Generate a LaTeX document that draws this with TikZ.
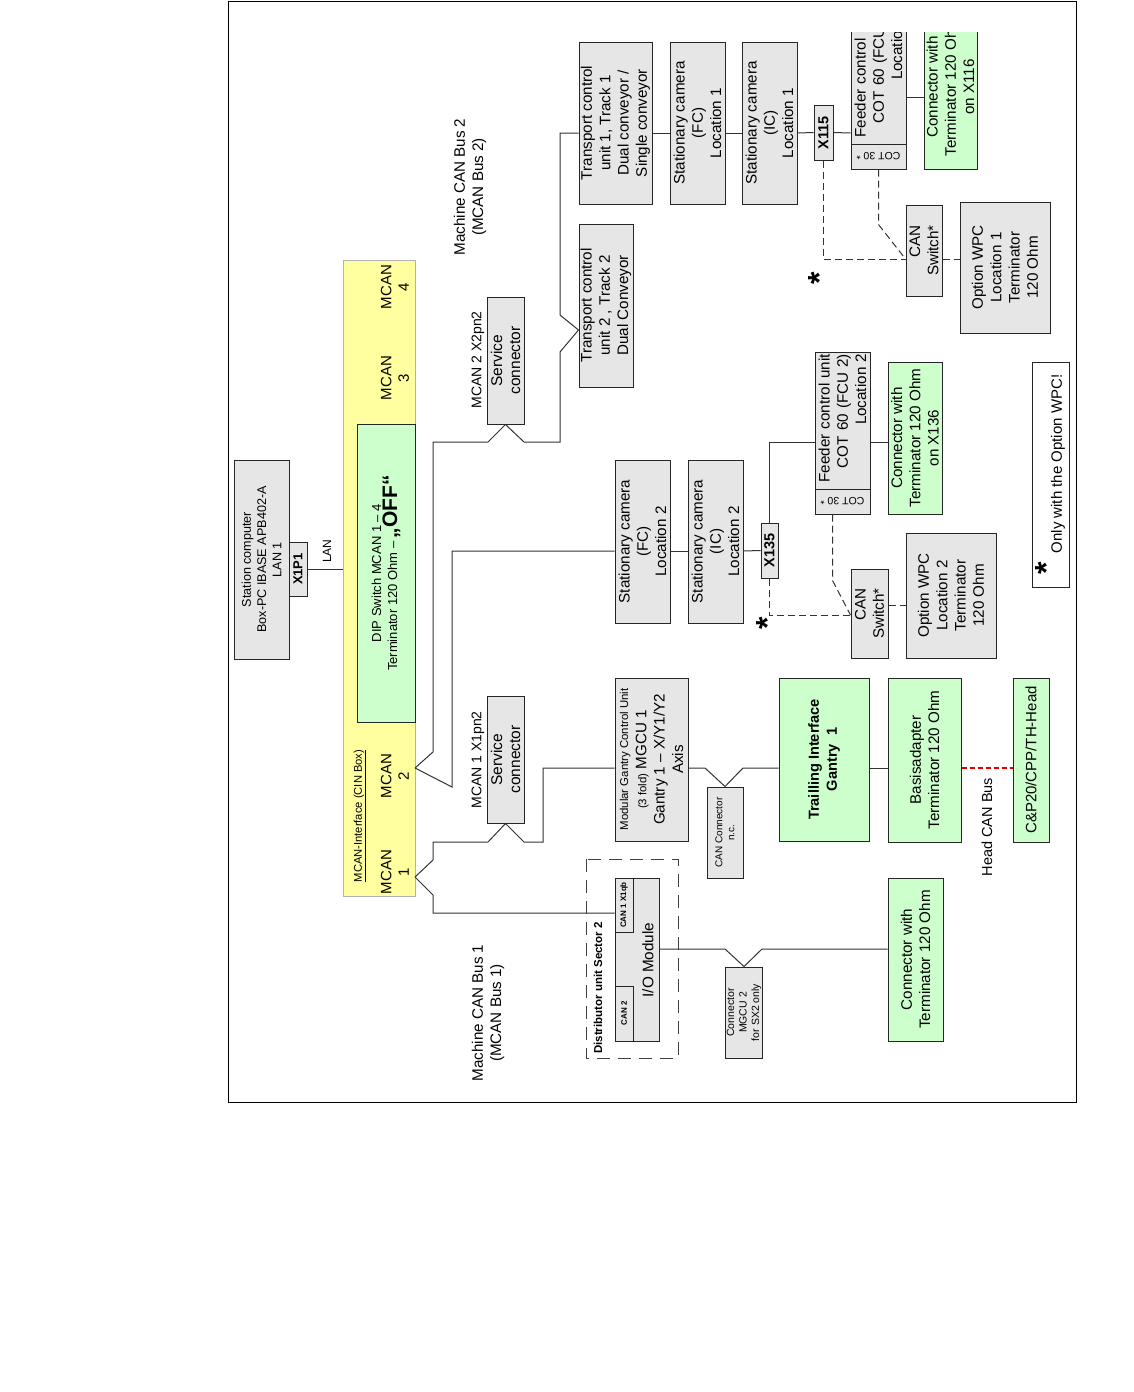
\documentclass[tikz,border=0pt]{standalone}
\usepackage{fontspec}
\setmainfont{Liberation Sans}
\usetikzlibrary{positioning,calc}

\definecolor{boxgray}{RGB}{230,230,230}
\definecolor{boxgreen}{RGB}{204,255,204}
\definecolor{cinyellow}{RGB}{255,255,160}

\tikzset{
  boxbase/.style={rectangle, draw=black!85, fill=boxgray, line width=1pt, inner sep=1pt, align=center, font=\fontsize{15.2}{18.3}\selectfont},
  box/.style={boxbase, rotate=90},
  greenbox/.style={box, fill=boxgreen},
  cotbox/.style={boxbase, rotate=180, font=\fontsize{10.5}{12}\selectfont},
  wire/.style={draw=black!80, line width=1pt},
  dashwire/.style={wire, dash pattern=on 7pt off 4pt},
  redbus/.style={draw=red!90!black, line width=2.4pt, dash pattern=on 5pt off 3pt},
  lbl/.style={rotate=90, align=center, inner sep=0pt, font=\fontsize{15.2}{18.3}\selectfont},
  star/.style={rotate=90, inner sep=0pt, font=\fontsize{32}{32}\selectfont\bfseries}
}

\begin{document}
\begin{tikzpicture}[x=1pt, y=-1pt]
\useasboundingbox (0,0) rectangle (1134,1392);
\draw[line width=1pt] (228,1) rectangle (1076,1102);

% Station computer and CIN box
\node[box, minimum width=199pt, minimum height=55pt, font=\fontsize{12.6}{15.3}\selectfont] (pc) at (261.5,559.5) {Station computer\\Box-PC IBASE APB402-A\\LAN 1};
\node[box, minimum width=54pt, minimum height=18pt, font=\fontsize{13}{15}\selectfont\bfseries] (x1p1) at (298,569) {X1P1};
\node[lbl, font=\fontsize{12}{14}\selectfont] (lan) at (327,551) {LAN};

\node[box, fill=cinyellow, draw=black!30, minimum width=636pt, minimum height=72pt] (cin) at (379,578) {};
\node[greenbox, minimum width=298pt, minimum height=58pt, font=\fontsize{13}{16}\selectfont] (dip) at (386,573) {DIP Switch MCAN 1 – 4\\Terminator 120 Ohm – {\fontsize{21}{22}\selectfont\bfseries „OFF“}};
\node[lbl, font=\fontsize{11.2}{13}\selectfont] (cinlbl) at (360,816) {\underline{MCAN-Interface (CIN Box)}};
\node[lbl, font=\fontsize{15}{17.5}\selectfont] (m1) at (395,872) {MCAN\\1};
\node[lbl, font=\fontsize{15}{17.5}\selectfont] (m2) at (395,776) {MCAN\\2};
\node[lbl, font=\fontsize{15}{17.5}\selectfont] (m3) at (395,378) {MCAN\\3};
\node[lbl, font=\fontsize{15}{17.5}\selectfont] (m4) at (395,287) {MCAN\\4};

% Service connectors
\node[box, minimum width=127pt, minimum height=37pt, font=\fontsize{15.5}{18}\selectfont] (sc1) at (505.5,759.5) {Service\\connector};
\node[lbl, font=\fontsize{14}{16}\selectfont] (sc1lbl) at (478,760) {MCAN 1 X1pn2};
\node[box, minimum width=127pt, minimum height=37pt, font=\fontsize{15.5}{18}\selectfont] (sc2) at (505.5,360.5) {Service\\connector};
\node[lbl, font=\fontsize{14}{16}\selectfont] (sc2lbl) at (478,360) {MCAN 2 X2pn2};

\node[lbl] (bus1lbl) at (488,1013) {Machine CAN Bus 1\\(MCAN Bus 1)};
\node[lbl] (bus2lbl) at (470,187) {Machine CAN Bus 2\\(MCAN Bus 2)};

% MCAN bus 2, location 1
\node[box, minimum width=163pt, minimum height=54pt] (tc2) at (606,305.5) {Transport control\\unit 2 , Track 2\\Dual Conveyor};
\node[box, minimum width=162pt, minimum height=73pt] (tc1) at (615.5,123) {Transport control\\unit 1, Track 1\\Dual conveyor /\\Single conveyor};
\node[box, minimum width=162pt, minimum height=55pt] (fc1) at (697.5,123) {Stationary camera\\(FC)\\Location 1};
\node[box, minimum width=162pt, minimum height=55pt] (ic1) at (769.5,123) {Stationary camera\\(IC)\\Location 1};
\node[box, minimum width=55pt, minimum height=19pt, font=\fontsize{14.5}{16}\selectfont\bfseries] (x115) at (823.5,132.5) {X115};

\begin{scope}
\clip (840,32) rectangle (990,220);
\node[box, minimum width=137pt, minimum height=55pt, text width=133pt, align=right] (fcu1) at (878.5,75.5) {Feeder control unit\\COT 60 (FCU 1)\\Location 1};
\node[cotbox, minimum width=55pt, minimum height=25pt] (cot1) at (878.5,156.5) {COT 30 *};
\node[greenbox, minimum width=164pt, minimum height=53pt] (x116) at (950.5,87) {Connector with\\Terminator 120 Ohm\\on X116};
\end{scope}

\node[box, minimum width=91pt, minimum height=36pt, align=right] (sw1) at (924,250.5) {CAN\\Switch*};
\node[box, minimum width=131pt, minimum height=90pt] (wpc1) at (1005,267.5) {Option WPC\\Location 1\\Terminator\\120 Ohm};
\node[star] (star1) at (819,278) {*};

% MCAN bus 1, location 2
\node[box, minimum width=163pt, minimum height=55pt] (fc2) at (642.5,541.5) {Stationary camera\\(FC)\\Location 2};
\node[box, minimum width=163pt, minimum height=55pt] (ic2) at (715.5,541.5) {Stationary camera\\(IC)\\Location 2};
\node[box, minimum width=55pt, minimum height=17pt, font=\fontsize{14.5}{16}\selectfont\bfseries] (x135) at (769.5,550.5) {X135};
\node[box, minimum width=137pt, minimum height=55pt, text width=133pt, align=right] (fcu2) at (842.5,420.5) {Feeder control unit\\COT 60 (FCU 2)\\Location 2};
\node[cotbox, minimum width=55pt, minimum height=25pt] (cot2) at (842.5,501.5) {COT 30 *};
\node[greenbox, minimum width=152pt, minimum height=54pt] (x136) at (915,438) {Connector with\\Terminator 120 Ohm\\on X136};
\node[box, minimum width=89pt, minimum height=37pt, align=right] (sw2) at (869.5,613.5) {CAN\\Switch*};
\node[box, minimum width=125pt, minimum height=90pt] (wpc2) at (951,595.5) {Option WPC\\Location 2\\Terminator\\120 Ohm};
\node[star] (star2) at (767,623) {*};

% legend
\node[box, fill=white, minimum width=225pt, minimum height=37pt] (note) at (1050.5,474.5) {};
\node[lbl, font=\fontsize{15}{17}\selectfont] (notetxt) at (1058,464) {Only with the Option WPC!};
\node[star] (star3) at (1046,568) {*};

% gantry
\node[box, minimum width=163pt, minimum height=73pt] (mgcu) at (651.5,759.5) {{\fontsize{11.4}{13}\selectfont Modular Gantry Control Unit}\\{\fontsize{11.4}{13}\selectfont (3 fold)}\ MGCU 1\\Gantry 1 – X/Y1/Y2\\Axis};
\node[box, minimum width=91pt, minimum height=36pt, font=\fontsize{10}{12}\selectfont] (canc) at (725,832.5) {CAN Connector\\n.c.};
\node[greenbox, minimum width=163pt, minimum height=90pt, font=\fontsize{14.6}{18}\selectfont\bfseries] (trail) at (824,759.5) {Trailling Interface\\Gantry\ \ 1};
\node[greenbox, minimum width=164pt, minimum height=73pt] (basis) at (924.5,760) {Basisadapter\\Terminator 120 Ohm};
\node[greenbox, minimum width=164pt, minimum height=36pt, font=\fontsize{15}{18}\selectfont] (head) at (1031,760) {C\&P20/CPP/TH-Head};
\node[lbl, font=\fontsize{14.5}{17}\selectfont] (headlbl) at (987,827) {Head CAN Bus};

% distributor unit
\node[rectangle, draw=black!75, line width=1pt, dash pattern=on 13pt off 8pt, rotate=90, minimum width=199pt, minimum height=92pt] (dist) at (632,958.5) {};
\node[lbl, anchor=west, font=\fontsize{11.5}{13}\selectfont\bfseries] (distlbl) at (598,1054) {Distributor unit Sector 2};
\node[box, minimum width=163pt, minimum height=44pt] (io) at (637,959.5) {};
\node[box, minimum width=54pt, minimum height=18pt, font=\fontsize{8}{9}\selectfont\bfseries] (can1x) at (624,905) {CAN 1 X1qb};
\node[box, minimum width=55pt, minimum height=18pt, font=\fontsize{8}{9}\selectfont\bfseries] (can2x) at (624,1013.5) {CAN 2};
\node[lbl, font=\fontsize{15.3}{17}\selectfont] (iolbl) at (648,960) {I/O Module};
\node[box, minimum width=91pt, minimum height=36pt, font=\fontsize{10.5}{12.5}\selectfont] (mgcu2c) at (744,1012.5) {Connector\\MGCU 2\\for SX2 only};
\node[greenbox, minimum width=163pt, minimum height=55pt] (term1) at (915.5,959.5) {Connector with\\Terminator 120 Ohm};

% levels
\coordinate (pA) at (415,877);
\coordinate (pB) at (415,768);
\coordinate (yG) at (0,768);
\coordinate (yIO) at (0,949);
\coordinate (yS1) at (0,913);
\coordinate (yC1) at (0,133);
\coordinate (yF1) at (0,97);
\coordinate (yT2) at (0,330);
\coordinate (yC2) at (0,551);
\coordinate (yF2) at (0,442);
\coordinate (yD1) at (0,259);
\coordinate (yD2) at (0,615);
\coordinate (yW2) at (0,605);

% connectors
\draw[wire] (x1p1.south) -- (x1p1.south -| cin.north);

\draw[wire] (pA) -- (433,860) -- (433,842) -- (488,842) -- (sc1.west) -- (524,842) -- (543,842) -- (543,768) -- (mgcu.north |- yG);
\draw[wire] (pA) -- (433,895) -- (433,913) -- (can1x.north |- yS1);

\draw[wire] (pB) -- (433,752) -- (433,442) -- (488,442) -- (sc2.west) -- (524,442) -- (560,442) -- (560,352) -- (tc2.north |- yT2) -- (560,315) -- (560,133) -- (tc1.north |- yC1);
\draw[wire] (pB) -- (452,787) -- (452,551) -- (fc2.north |- yC2);

\draw[wire] (tc1.south |- yC1) -- (fc1.north |- yC1);
\draw[wire] (fc1.south |- yC1) -- (ic1.north |- yC1);
\draw[wire] (ic1.south |- yC1) -- (x115.north);
\draw[wire] (x115.south) -- (fcu1.north |- yC1);
\draw[wire] (fcu1.south |- yF1) -- (x116.north |- yF1);
\draw[dashwire] (x115.west) |- (sw1.north |- yD1);
\draw[dashwire] (cot1.north) -- ++(0,55) -- (sw1.north |- yD1);
\draw[dashwire] (sw1.south |- yD1) -- (wpc1.north |- yD1);

\draw[wire] (fc2.south |- yC2) -- (ic2.north |- yC2);
\draw[wire] (ic2.south |- yC2) -- (x135.north);
\draw[wire] (x135.east) |- (fcu2.north |- yF2);
\draw[wire] (fcu2.south |- yF2) -- (x136.north |- yF2);
\draw[dashwire] (x135.west) |- (sw2.north |- yD2);
\draw[dashwire] ($(cot2.north)+(-10,0)$) -- ++(0,66) -- (sw2.north |- yD2);
\draw[dashwire] (sw2.south |- yW2) -- (wpc2.north |- yW2);

\draw[wire] (mgcu.south |- yG) -- (705,768) -- (canc.east) -- (743,768) -- (trail.north |- yG);
\draw[wire] (trail.south |- yG) -- (basis.north |- yG);
\draw[redbus] (basis.south |- yG) -- (head.north |- yG);

\draw[wire] (io.south |- yIO) -- (725,949) -- (mgcu2c.east) -- (762,949) -- (term1.north |- yIO);

\end{tikzpicture}
\end{document}
